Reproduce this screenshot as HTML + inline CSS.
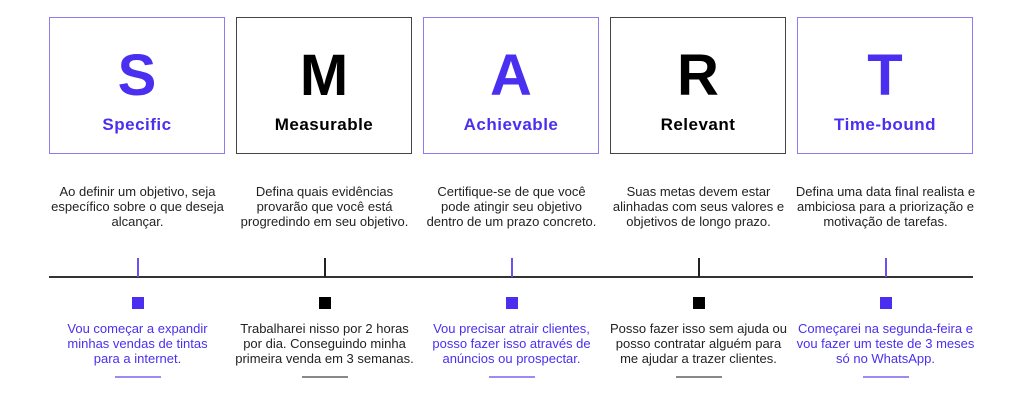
<!DOCTYPE html>
<html><head><meta charset="utf-8"><style>
body{margin:0;width:1024px;height:413px;background:#fff;font-family:"Liberation Sans",sans-serif;position:relative;overflow:hidden}
.box{position:absolute;top:17px;width:176px;height:137px;border:1.5px solid #444;box-sizing:border-box;text-align:center}
.box.p{border-color:#8c7cf2}
.L{position:absolute;top:25px;left:0;right:0;font-size:58px;font-weight:bold;line-height:66px}
.lab{position:absolute;top:97px;left:0;right:0;font-size:17px;font-weight:bold;letter-spacing:0.5px;line-height:20px}
.p .L,.p .lab{color:#4a2ff0}
.d{position:absolute;top:184px;width:187px;text-align:center;font-size:13px;line-height:15px;color:#222}
.b{position:absolute;top:321px;width:187px;text-align:center;font-size:13px;line-height:15px;color:#222}
.b.p{color:#4a2ff0}
.t{position:absolute;top:258px;width:1.5px;height:19px;background:#222}
.t.p{background:#6a52f2}
.sq{position:absolute;top:297px;width:12px;height:12px;background:#000}
.sq.p{background:#4a2ff0}
.u{position:absolute;top:376px;width:46px;height:1.5px;background:#888}
.u.p{background:#9a8cf2}
</style></head><body>
<div class="box p" style="left:49px"><div class="L">S</div><div class="lab">Specific</div></div>
<div class="box" style="left:236px"><div class="L">M</div><div class="lab">Measurable</div></div>
<div class="box p" style="left:423px"><div class="L">A</div><div class="lab">Achievable</div></div>
<div class="box" style="left:610px"><div class="L">R</div><div class="lab">Relevant</div></div>
<div class="box p" style="left:797px"><div class="L">T</div><div class="lab">Time-bound</div></div>

<div class="d" style="left:44px">Ao definir um objetivo, seja<br>específico sobre o que deseja<br>alcançar.</div>
<div class="d" style="left:231px">Defina quais evidências<br>provarão que você está<br>progredindo em seu objetivo.</div>
<div class="d" style="left:418px">Certifique-se de que você<br>pode atingir seu objetivo<br>dentro de um prazo concreto.</div>
<div class="d" style="left:605px">Suas metas devem estar<br>alinhadas com seus valores e<br>objetivos de longo prazo.</div>
<div class="d" style="left:792px">Defina uma data final realista e<br>ambiciosa para a priorização e<br>motivação de tarefas.</div>

<div style="position:absolute;left:49px;top:276px;width:924px;height:1.5px;background:#333"></div>

<div class="t p" style="left:137px"></div><div class="t" style="left:324px"></div><div class="t p" style="left:511px"></div><div class="t" style="left:698px"></div><div class="t p" style="left:885px"></div>
<div class="sq p" style="left:132px"></div><div class="sq" style="left:319px"></div><div class="sq p" style="left:506px"></div><div class="sq" style="left:693px"></div><div class="sq p" style="left:880px"></div>

<div class="b p" style="left:44px">Vou começar a expandir<br>minhas vendas de tintas<br>para a internet.</div>
<div class="b" style="left:231px">Trabalharei nisso por 2 horas<br>por dia. Conseguindo minha<br>primeira venda em 3 semanas.</div>
<div class="b p" style="left:418px">Vou precisar atrair clientes,<br>posso fazer isso através de<br>anúncios ou prospectar.</div>
<div class="b" style="left:605px">Posso fazer isso sem ajuda ou<br>posso contratar alguém para<br>me ajudar a trazer clientes.</div>
<div class="b p" style="left:792px">Começarei na segunda-feira e<br>vou fazer um teste de 3 meses<br>só no WhatsApp.</div>

<div class="u p" style="left:115px"></div><div class="u" style="left:302px"></div><div class="u p" style="left:489px"></div><div class="u" style="left:676px"></div><div class="u p" style="left:863px"></div>
</body></html>
